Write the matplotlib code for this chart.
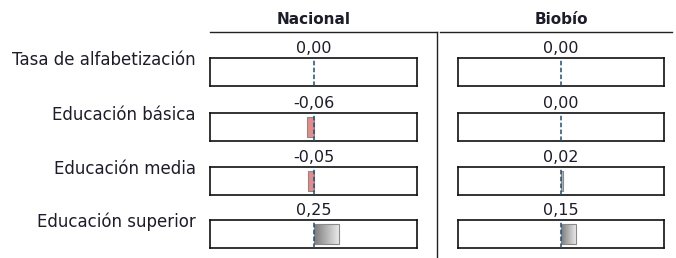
import numpy as np
import matplotlib
matplotlib.use("Agg")
import matplotlib.pyplot as plt
from matplotlib.lines import Line2D

indicadores = ["Tasa de alfabetización", "Educación básica", "Educación media", "Educación superior"]
regiones = ["Nacional", "Biobío"]
nacional = [0.00, -0.06, -0.05, 0.25]
biobio = [0.00, 0.00, 0.02, 0.15]
valores = [nacional, biobio]

fig = plt.figure(figsize=(6.76, 2.58), dpi=100)
W, H = 676.0, 258.0

col_left = [210, 458]
col_width = [207, 206]
row_top = [58, 113, 167, 220]
box_h = 28

dash_col = "#1f4e79"
txt_col = "#1c1c2a"
grad = np.linspace(0, 1, 256).reshape(1, -1)
cmap_pos = matplotlib.colors.LinearSegmentedColormap.from_list("g", ["#7a7a7a", "#efefef"])

for c, (reg, vals) in enumerate(zip(regiones, valores)):
    for r, (ind, v) in enumerate(zip(indicadores, vals)):
        ax = fig.add_axes([col_left[c] / W, 1 - (row_top[r] + box_h) / H,
                           col_width[c] / W, box_h / H])
        ax.set_xlim(-1, 1)
        ax.set_ylim(0, 1)
        ax.set_xticks([])
        ax.set_yticks([])
        for s in ax.spines.values():
            s.set_linewidth(1.2)
            s.set_color("#111111")
        if v < 0:
            ax.barh(0.5, v, height=0.72, color="#e88a8a", edgecolor="#8a8a8a", linewidth=0.8, zorder=2)
        elif v > 0:
            bars = ax.barh(0.5, v, height=0.72, color="none", edgecolor="#8a8a8a", linewidth=0.8, zorder=3)
            im = ax.imshow(grad, extent=[0, v, 0.14, 0.86], aspect="auto", cmap=cmap_pos, zorder=2)
            im.set_clip_path(bars[0])
            ax.set_xlim(-1, 1)
            ax.set_ylim(0, 1)
        ax.axvline(0, color=dash_col, linestyle=(0, (3, 1.5)), linewidth=1.1, zorder=4)
        ax.text(0, 1.08, f"{v:.2f}".replace(".", ","), ha="center", va="bottom",
                fontsize=11.5, color=txt_col, transform=ax.transData, clip_on=False)
        if c == 0:
            fig.text(196 / W, 1 - (row_top[r] + 2) / H, ind, ha="right", va="center",
                     fontsize=12, color=txt_col)

# headers
fig.text(314 / W, 1 - 19 / H, regiones[0], ha="center", va="center", fontsize=11, fontweight="bold", color=txt_col)
fig.text(561 / W, 1 - 19 / H, regiones[1], ha="center", va="center", fontsize=11, fontweight="bold", color=txt_col)
fig.add_artist(Line2D([210 / W, 437 / W], [1 - 32 / H, 1 - 32 / H], color="#222222", linewidth=1.0))
fig.add_artist(Line2D([440 / W, 672 / W], [1 - 32 / H, 1 - 32 / H], color="#222222", linewidth=1.0))
fig.add_artist(Line2D([437 / W, 437 / W], [1 - 32 / H, 0], color="#222222", linewidth=1.0))

fig.savefig("out.png", dpi=100)
